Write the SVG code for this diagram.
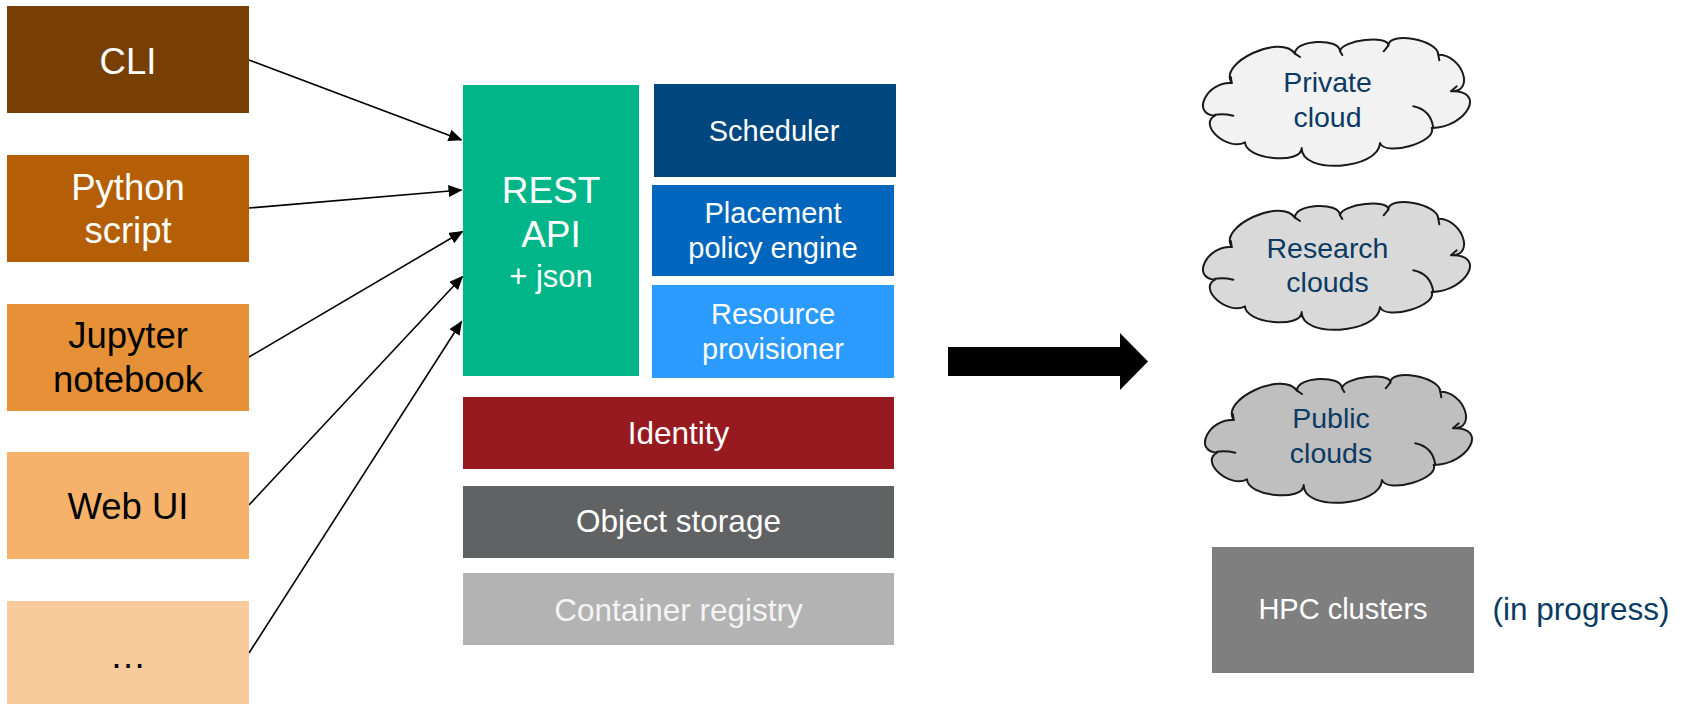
<svg xmlns="http://www.w3.org/2000/svg" width="1684" height="704" viewBox="0 0 1684 704">
<style>
text{font-family:"Liberation Sans",Arial,sans-serif;text-anchor:middle}
.w{fill:#ffffff}
.k{fill:#000000}
.n{fill:#0b3a63;font-size:28.5px}
.cl{stroke:#1a1a1a;stroke-width:2;stroke-linejoin:round}
.hk{fill:none;stroke:#1a1a1a;stroke-width:2;stroke-linecap:round}
.con{stroke:#000;stroke-width:1.6;fill:none}
</style>
<defs>
<marker id="ah" markerUnits="userSpaceOnUse" markerWidth="14" markerHeight="12" refX="13" refY="6" orient="auto">
<path d="M0,0 L14,6 L0,12 Z" fill="#000"/>
</marker>
<path id="cloudShape" d="M26.7,44 C2.2,42.2 -14.5,74.9 10,76.7 C-7.3,86 22.7,112.6 40,103.3 C40,120.4 96.7,126.1 96.7,109 C95.6,135.9 173.9,130.9 175,104 C180.5,118 232.2,103 226.7,89 C261.7,88.1 281.7,51.4 246.7,52.3 C270.3,52.3 256.9,15.7 233.3,15.7 C233.3,0.8 183.3,-8.2 183.3,6.7 C184.4,-4.6 136.1,1 135,12.3 C134.3,-1.7 89.3,0.7 90,14.7 C76.2,-5.8 12.9,23.5 26.7,44 Z"/>
<path id="cloudHooks" d="M10,75.7 Q19,74.5 28.3,76.7 M208.3,67.3 Q226,71 228.3,89 M246,52.3 L251.7,47.3 M233.3,15.7 L234.3,21.3 M183.3,6.7 L178.7,12.3 M135,12.3 L137.3,16 M90,14.7 L95,18 M26.7,44 L25.8,38"/>
</defs>

<g id="connectors">
<line class="con" x1="249" y1="60" x2="461.5" y2="140" marker-end="url(#ah)"/>
<line class="con" x1="249" y1="208" x2="461.5" y2="190" marker-end="url(#ah)"/>
<line class="con" x1="249" y1="357" x2="462.5" y2="231.5" marker-end="url(#ah)"/>
<line class="con" x1="249" y1="505" x2="462.5" y2="276.5" marker-end="url(#ah)"/>
<line class="con" x1="249" y1="653" x2="461.5" y2="321.5" marker-end="url(#ah)"/>
<polygon id="bigArrow" points="948,347 1120,347 1120,333 1148,361.5 1120,390 1120,376 948,376" fill="#000"/>
</g>

<g id="cli">
<rect x="7" y="6" width="242" height="107" fill="#783f04"/>
<text class="w" x="128" y="74" font-size="36.5">CLI</text>
</g>
<g id="python">
<rect x="7" y="155" width="242" height="107" fill="#b45f06"/>
<text class="w" x="128" y="200" font-size="36.5">Python</text>
<text class="w" x="128" y="243.3" font-size="36.5">script</text>
</g>
<g id="jupyter">
<rect x="7" y="304" width="242" height="107" fill="#e69138"/>
<text class="k" x="128" y="348.3" font-size="36.5">Jupyter</text>
<text class="k" x="128" y="392.3" font-size="36.5">notebook</text>
</g>
<g id="webui">
<rect x="7" y="452" width="242" height="107" fill="#f6b26b"/>
<text class="k" x="128" y="519.3" font-size="36.5">Web UI</text>
</g>
<g id="more">
<rect x="7" y="601" width="242" height="107" fill="#f9cb9c"/>
<text class="k" x="128" y="668.3" font-size="36.5">…</text>
</g>

<g id="rest">
<rect x="463" y="85" width="176" height="291" fill="#00b588"/>
<text class="w" x="551" y="203.3" font-size="37">REST</text>
<text class="w" x="551" y="246.7" font-size="37">API</text>
<text class="w" x="551" y="286.7" font-size="31">+ json</text>
</g>
<g id="scheduler">
<rect x="654" y="84" width="242" height="93" fill="#00467f"/>
<text class="w" x="774" y="140.7" font-size="29">Scheduler</text>
</g>
<g id="placement">
<rect x="652" y="185" width="242" height="91" fill="#0066bd"/>
<text class="w" x="773" y="222.7" font-size="29">Placement</text>
<text class="w" x="773" y="258.3" font-size="29">policy engine</text>
</g>
<g id="provisioner">
<rect x="652" y="285" width="242" height="93" fill="#2b9bff"/>
<text class="w" x="773" y="324" font-size="29">Resource</text>
<text class="w" x="773" y="359.3" font-size="29">provisioner</text>
</g>
<g id="identity">
<rect x="463" y="397" width="431" height="72" fill="#961a20"/>
<text class="w" x="678.5" y="444" font-size="31.5">Identity</text>
</g>
<g id="objectstorage">
<rect x="463" y="486" width="431" height="72" fill="#616264"/>
<text class="w" x="678.5" y="532.3" font-size="31.5">Object storage</text>
</g>
<g id="registry">
<rect x="463" y="573" width="431" height="72" fill="#b2b3b2"/>
<text x="678.5" y="620.7" font-size="31.5" fill="#f4f4f4">Container registry</text>
</g>

<g id="private">
<g transform="translate(1205,39)">
<use href="#cloudShape" class="cl" fill="#f2f2f2"/>
<use href="#cloudHooks" class="hk"/>
</g>
<text class="n" x="1327.5" y="91.7">Private</text>
<text class="n" x="1327.5" y="127.3">cloud</text>
</g>
<g id="research">
<g transform="translate(1205,203)">
<use href="#cloudShape" class="cl" fill="#d9d9d9"/>
<use href="#cloudHooks" class="hk"/>
</g>
<text class="n" x="1327.5" y="257.7">Research</text>
<text class="n" x="1327.5" y="292.3">clouds</text>
</g>
<g id="public">
<g transform="translate(1207,376)">
<use href="#cloudShape" class="cl" fill="#bfbfbf"/>
<use href="#cloudHooks" class="hk"/>
</g>
<text class="n" x="1331" y="428.3">Public</text>
<text class="n" x="1331" y="463.3">clouds</text>
</g>
<g id="hpc">
<rect x="1212" y="547" width="262" height="126" fill="#7f7f7f"/>
<text class="w" x="1343" y="619.3" font-size="29">HPC clusters</text>
</g>
<g id="inprogress">
<text x="1581" y="620" font-size="31.5" fill="#0b3a63">(in progress)</text>
</g>
</svg>
